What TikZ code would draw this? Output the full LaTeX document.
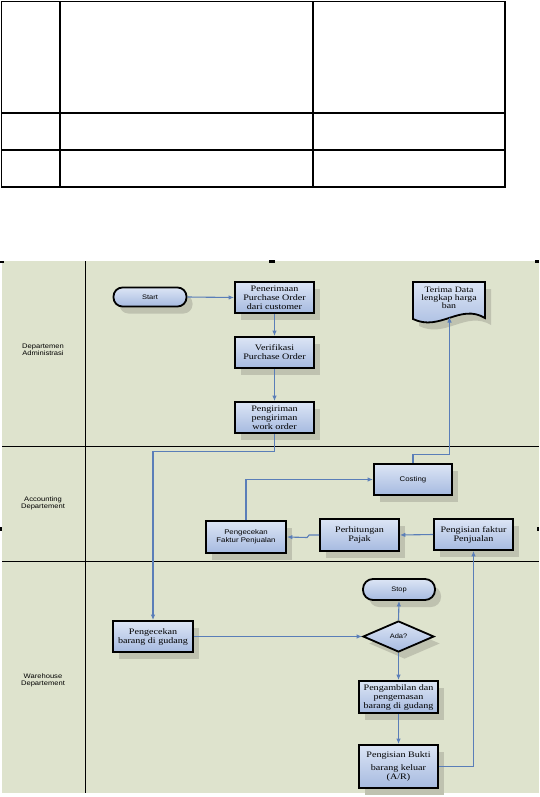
\documentclass[tikz,border=0pt]{standalone}
\usepackage{fontspec}
\usetikzlibrary{shapes.geometric,shadows,arrows.meta,calc}
\newfontfamily\boxfont{Liberation Serif}[FakeStretch=1.2]
\newfontfamily\lblfont{Liberation Sans}[FakeStretch=1.15]
\definecolor{lanebg}{HTML}{DEE3CD}
\definecolor{bxtop}{HTML}{DCE5F5}
\definecolor{bxbot}{HTML}{A6BAE0}
\definecolor{shadowc}{HTML}{BFC2B0}
\definecolor{conncol}{HTML}{5A7EB8}
\tikzset{
  shad/.style={drop shadow={shadow xshift=6pt, shadow yshift=-7pt, fill=shadowc, opacity=1}},
  procbox/.style={draw=black, line width=1.8pt, top color=bxtop, bottom color=bxbot, shad,
    minimum width=79pt, minimum height=31pt, inner sep=1pt, align=center,
    font=\boxfont\fontsize{8.4}{9}\selectfont},
  sansbox/.style={procbox, font=\lblfont\fontsize{6.8}{8}\selectfont},
  termbox/.style={draw=black, line width=1.8pt, top color=bxtop, bottom color=bxbot, shad,
    rounded corners=9pt, inner sep=1pt, align=center, font=\lblfont\fontsize{6.5}{8}\selectfont},
  decbox/.style={diamond, draw=black, line width=1.8pt, top color=bxtop, bottom color=bxbot, shad,
    aspect=2.3, minimum width=71pt, minimum height=31pt, inner sep=0pt, font=\lblfont\fontsize{6.5}{8}\selectfont},
  lanelbl/.style={align=center, font=\lblfont\fontsize{6.6}{7}\selectfont},
  conn/.style={draw=conncol, line width=1.1pt, -{Latex[length=5.5pt,width=4.5pt]}},
  tablel/.style={draw=black, line width=1.2pt},
  lanel/.style={draw=black, line width=1pt},
  tick/.style={fill=black}
}
\begin{document}
\begin{tikzpicture}[x=1pt,y=-1pt]
\useasboundingbox (0,0) rectangle (539,797);
% table
\draw[tablel] (1.5,1.5) rectangle (505,187);
\draw[tablel] (60,1.5) -- (60,187);
\draw[tablel] (313,1.5) -- (313,187);
\draw[tablel] (1.5,113) -- (505,113);
\draw[tablel] (1.5,150) -- (505,150);
% swimlanes
\fill[lanebg] (2,261) rectangle (539,793);
\draw[lanel] (85,261) -- (85,793);
\draw[lanel] (2,446) -- (539,446);
\draw[lanel] (2,561) -- (539,561);
\fill[tick] (0,260.5) rectangle (4,263);
\fill[tick] (269,260) rectangle (275,262.5);
\fill[tick] (535,260) rectangle (539,262.5);
\fill[tick] (0,527) rectangle (2,531);
\fill[tick] (537,527) rectangle (539,531);
\node[lanelbl] (l1) at (43,350) {Departemen\\Administrasi};
\node[lanelbl] (l2) at (43,503) {Accounting\\Departement};
\node[lanelbl] (l3) at (43,680) {Warehouse\\Departement};
% document shape
\fill[shadowc] (419,289) -- (491,289) -- (491,325) .. controls (466,310) and (446,339) .. (419,326) -- cycle;
\draw[black, line width=1.8pt, top color=bxtop, bottom color=bxbot] (413,282) -- (485,282) -- (485,318) .. controls (460,303) and (440,332) .. (413,319) -- cycle;
\node[align=center, font=\boxfont\fontsize{8.2}{8}\selectfont] (terima) at (449,298) {Terima Data\\lengkap harga\\ban};
\coordinate (tbot) at (449.5,317);
% nodes
\node[termbox, minimum width=73pt, minimum height=19pt] (start) at (150,297) {Start};
\node[procbox] (pen) at (274.5,297.5) {Penerimaan\\Purchase Order\\dari customer};
\node[procbox] (ver) at (274.5,352.5) {Verifikasi\\Purchase Order};
\node[procbox] (peng) at (274.5,417.5) {Pengiriman\\pengiriman\\work order};
\node[sansbox, minimum width=78pt] (cost) at (413,479.5) {Costing};
\node[sansbox, minimum width=80pt, minimum height=32pt] (pfj) at (246,537) {Pengecekan\\Faktur Penjualan};
\node[procbox, minimum height=32pt] (pajak) at (359.5,535) {Perhitungan\\Pajak};
\node[procbox] (pfak) at (473.5,534.5) {Pengisian faktur\\Penjualan};
\node[termbox, minimum width=72pt, minimum height=21pt, rounded corners=10pt] (stop) at (399,589.5) {Stop};
\node[decbox] (ada) at (398.5,636.5) {Ada?};
\node[procbox, minimum width=80pt] (pbg) at (153,636.5) {Pengecekan\\barang di gudang};
\node[procbox, minimum height=32pt] (pamb) at (398.5,697) {Pengambilan dan\\pengemasan\\barang di gudang};
\node[procbox, minimum height=43pt] (pbukti) at (398.5,766.5) {Pengisian Bukti\\[4pt]barang keluar\\(A/R)};
% connectors
\draw[conn] (start.east) -- (pen.west);
\draw[conn] (pen.south) -- (ver.north);
\draw[conn] (ver.south) -- (peng.north);
\draw[conn] (peng.south) -- ++(0,18) -| (pbg.north);
\draw[conn] (cost.north) -- ++(0,-9) -| (tbot);
\draw[conn] (pfj.north) |- (cost.west);
\draw[conn] (pajak.west) -- ++(-10,0) -- ++(-2,2.5) -- (pfj.east);
\draw[conn] (pfak.west) -- (pajak.east);
\draw[conn] (pbukti.east) -| (pfak.south);
\draw[conn] (pbg.east) -- (ada.west);
\draw[conn] (ada.north) -- (stop.south);
\draw[conn] (ada.south) -- (pamb.north);
\draw[conn] (pamb.south) -- (pbukti.north);
\end{tikzpicture}
\end{document}
